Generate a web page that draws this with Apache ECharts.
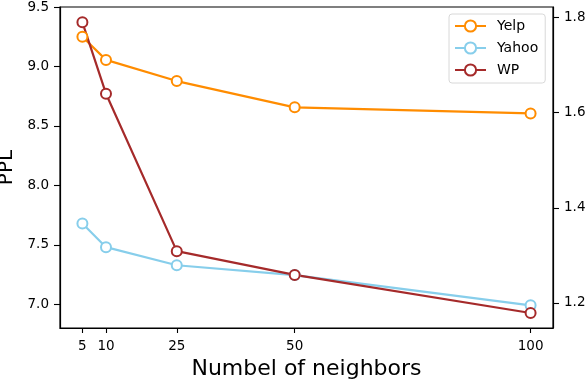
<!DOCTYPE html>
<html>
<head>
<meta charset="utf-8">
<script src="https://cdn.jsdelivr.net/npm/echarts@6.0.0/dist/echarts.min.js"></script>
<style>
    html, body { margin: 0; padding: 0; background: #fff; }
    #chart { width: 588px; height: 380px; }
</style>
</head>
<body>
<div id="chart"></div>
<script>
    // neighbors on x
    var neighbors = [5, 10, 25, 50, 100];
    var yelp = [9.25, 9.055, 8.877, 8.656, 8.605];
    var yahoo = [7.679, 7.48, 7.328, 7.245, 6.991];
    // WP goes on the right axis
    var wp = [1.790, 1.640, 1.309, 1.259, 1.179];

    var leftTicks = [7.0, 7.5, 8.0, 8.5, 9.0, 9.5];
    var rightTicks = [1.2, 1.4, 1.6, 1.8];

    function pairs(ys) {
        return neighbors.map(function (x, i) { return [x, ys[i]]; });
    }

    var font = 'DejaVu Sans';
    var myChart = echarts.init(document.getElementById('chart'));

    function lineSeries(name, color, data, axis) {
        return {
            name: name,
            type: 'line',
            yAxisIndex: axis,
            data: pairs(data),
            symbol: 'emptyCircle',
            symbolSize: 10,
            lineStyle: { color: color, width: 2.2 },
            itemStyle: { color: color, borderColor: color, borderWidth: 1.7 },
            emphasis: { disabled: true }
        };
    }

    var option = {
        animation: false,
        textStyle: { fontFamily: font },
        grid: {
            left: 60, top: 7, right: 35, bottom: 52,
            show: true, borderColor: '#000', borderWidth: 1.2,
            containLabel: false,
            outerBoundsMode: 'none'
        },
        legend: {
            orient: 'vertical',
            left: 449, top: 14,
            padding: [5, 7, 6, 5],
            itemWidth: 31, itemHeight: 14, itemGap: 8,
            backgroundColor: '#fff',
            borderColor: '#d8d8d8', borderWidth: 1, borderRadius: 3,
            textStyle: { fontFamily: font, fontSize: 14, color: '#000', padding: [0, 0, 0, 6] },
            data: ['Yelp', 'Yahoo', 'WP']
        },
        xAxis: {
            type: 'value',
            min: 0.25, max: 104.75,
            name: 'Numbel of neighbors',
            nameLocation: 'middle',
            nameGap: 26,
            nameTextStyle: { fontFamily: font, fontSize: 22, color: '#000' },
            axisLine: { show: true, lineStyle: { color: '#000', width: 1.2 } },
            axisTick: { show: true, length: 5, customValues: neighbors, lineStyle: { color: '#000', width: 1.1 } },
            axisLabel: { customValues: neighbors, margin: 11, fontFamily: font, fontSize: 13.5, color: '#000' },
            splitLine: { show: false }
        },
        yAxis: [
            {
                type: 'value',
                min: 6.8, max: 9.5,
                name: 'PPL',
                nameLocation: 'middle',
                nameGap: 42,
                nameRotate: 90,
                nameTextStyle: { fontFamily: font, fontSize: 20, color: '#000' },
                axisLine: { show: true, lineStyle: { color: '#000', width: 1.2 } },
                axisTick: { show: true, length: 6, customValues: leftTicks, lineStyle: { color: '#000', width: 1.1 } },
                axisLabel: {
                    customValues: leftTicks, margin: 11, fontFamily: font, fontSize: 13.5, color: '#000',
                    formatter: function (v) { return v.toFixed(1); }
                },
                splitLine: { show: false }
            },
            {
                type: 'value',
                position: 'right',
                min: 1.1474, max: 1.8223,
                axisLine: { show: true, lineStyle: { color: '#000', width: 1.2 } },
                axisTick: { show: true, length: 6, customValues: rightTicks, lineStyle: { color: '#000', width: 1.1 } },
                axisLabel: {
                    customValues: rightTicks, margin: 11, fontFamily: font, fontSize: 13.5, color: '#000',
                    formatter: function (v) { return v.toFixed(1); }
                },
                splitLine: { show: false }
            }
        ],
        series: [
            lineSeries('Yelp', '#ff8c00', yelp, 0),
            lineSeries('Yahoo', '#87ceeb', yahoo, 0),
            lineSeries('WP', '#a52a2a', wp, 1)
        ]
    };
    myChart.setOption(option);
</script>
</body>
</html>
